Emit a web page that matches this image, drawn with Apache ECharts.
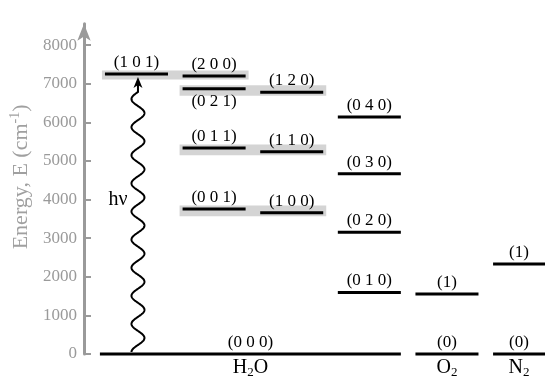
<!DOCTYPE html>
<html>
<head>
<meta charset="utf-8">
<script src="https://cdn.jsdelivr.net/npm/echarts@6/dist/echarts.min.js"></script>
<style>
  html, body { margin: 0; padding: 0; background: #fff; }
  #chart { width: 545px; height: 379px; }
</style>
</head>
<body>
<div id="chart"></div>
<script>
// Vibrational energy levels (cm^-1) of H2O, O2 and N2.
// H2O levels are labelled (v1 v2 v3); columns group levels side by side.
const h2oLabels   = ['(0 0 0)', '(0 1 0)', '(0 2 0)', '(0 3 0)', '(0 4 0)', '(1 0 0)', '(0 0 1)', '(1 1 0)', '(0 1 1)', '(1 2 0)', '(0 2 1)', '(2 0 0)', '(1 0 1)'];
const h2oEnergies = [0, 1595, 3152, 4667, 6134, 3657, 3756, 5235, 5331, 6775, 6871, 7201, 7250];
const h2oColumns  = [0, 3, 3, 3, 3, 2, 1, 2, 1, 2, 1, 1, 0];

const o2Labels   = ['(0)', '(1)'];
const o2Energies = [0, 1556];
const o2Columns  = [4, 4];

const n2Labels   = ['(0)', '(1)'];
const n2Energies = [0, 2330];
const n2Columns  = [5, 5];

const moleculeNames = ['H2O', 'O2', 'N2'];

// Near-degenerate H2O pairs shaded together
const resonancePairs = [
  ['(1 0 1)', '(2 0 0)'],
  ['(0 2 1)', '(1 2 0)'],
  ['(0 1 1)', '(1 1 0)'],
  ['(0 0 1)', '(1 0 0)']
];

// Photon absorbed from the ground state into (1 0 1)
const photonLabel = 'hν';
const photonFrom = '(0 0 0)';
const photonTo = '(1 0 1)';

const yTicks = [0, 1000, 2000, 3000, 4000, 5000, 6000, 7000, 8000];

// ---- build level records -------------------------------------------------
const SERIF = 'Liberation Serif';
const HALF = 0.406;        // half width of a level bar, in column units
const GROUND_EXTRA = 0.065;

const molecules = [
  { name: moleculeNames[0], labels: h2oLabels, energies: h2oEnergies, cols: h2oColumns },
  { name: moleculeNames[1], labels: o2Labels, energies: o2Energies, cols: o2Columns },
  { name: moleculeNames[2], labels: n2Labels, energies: n2Energies, cols: n2Columns }
];

const levels = [];
const moleculeSpans = [];
molecules.forEach(function (m) {
  const firstCol = Math.min.apply(null, m.cols);
  const lastCol = Math.max.apply(null, m.cols);
  moleculeSpans.push({ name: m.name, from: firstCol, to: lastCol });
  m.labels.forEach(function (lab, i) {
    const e = m.energies[i];
    const ground = e === 0;
    const from = ground ? firstCol : m.cols[i];
    const to = ground ? lastCol : m.cols[i];
    // put the label underneath when a level sits just above it in the same column
    const crowded = m.labels.some(function (l2, j) {
      return j !== i && m.cols[j] === m.cols[i] && m.energies[j] > e && m.energies[j] - e < 500;
    });
    levels.push({ mol: m.name, label: lab, energy: e, from: from, to: to, below: crowded && !ground });
  });
});

function findLevel(label) {
  return levels.find(function (l) { return l.mol === moleculeNames[0] && l.label === label; });
}

const bandData = resonancePairs.map(function (pair) {
  const a = findLevel(pair[0]), b = findLevel(pair[1]);
  return [Math.min(a.from, b.from), Math.max(a.to, b.to), Math.min(a.energy, b.energy), Math.max(a.energy, b.energy)];
});

const photonStart = findLevel(photonFrom);
const photonEnd = findLevel(photonTo);

// ---- renderers -----------------------------------------------------------
function renderBand(params, api) {
  const left = api.coord([api.value(0) - HALF, api.value(3)]);
  const right = api.coord([api.value(1) + HALF, api.value(2)]);
  return {
    type: 'rect',
    shape: { x: left[0] - 3, y: left[1] - 3.5, width: right[0] - left[0] + 6, height: right[1] - left[1] + 7 },
    style: { fill: '#d4d4d4' }
  };
}

function renderLevel(params, api) {
  const lv = levels[params.dataIndex];
  const extra = lv.to > lv.from ? GROUND_EXTRA : 0;
  const p1 = api.coord([api.value(0) - HALF - extra, api.value(2)]);
  const p2 = api.coord([api.value(1) + HALF, api.value(2)]);
  const xEnd = Math.min(p2[0], api.getWidth());
  const cx = (p1[0] + xEnd) / 2;
  return {
    type: 'group',
    children: [
      { type: 'line', shape: { x1: p1[0], y1: p1[1], x2: p2[0], y2: p2[1] },
        style: { stroke: '#000', lineWidth: 3 } },
      { type: 'text',
        style: { text: lv.label, x: cx, y: lv.below ? p1[1] + 4 : p1[1] - 3,
                 align: 'center', verticalAlign: lv.below ? 'top' : 'bottom',
                 fill: '#000', fontFamily: SERIF, fontSize: 17 } }
    ]
  };
}

function renderMolecule(params, api) {
  const span = moleculeSpans[params.dataIndex];
  const extra = span.to > span.from ? GROUND_EXTRA : 0;
  const p1 = api.coord([api.value(0) - HALF - extra, 0]);
  const p2 = api.coord([api.value(1) + HALF, 0]);
  const xEnd = Math.min(p2[0], api.getWidth());
  const m = span.name.match(/^([A-Z][a-z]?)(\d*)(.*)$/);
  const text = '{a|' + m[1] + '}' + (m[2] ? '{s|' + m[2] + '}' : '') + (m[3] ? '{a|' + m[3] + '}' : '');
  return {
    type: 'text',
    style: {
      text: text, x: (p1[0] + xEnd) / 2, y: p1[1] + 3, align: 'center', verticalAlign: 'top',
      rich: {
        a: { fontFamily: SERIF, fontSize: 20, fill: '#000', lineHeight: 22 },
        s: { fontFamily: SERIF, fontSize: 13, fill: '#000', lineHeight: 11, verticalAlign: 'bottom' }
      }
    }
  };
}

function renderPhoton(params, api) {
  const base = api.coord([api.value(0), api.value(1)]);
  const tip = api.coord([api.value(0), api.value(2)]);
  const x0 = base[0] + 1.5;
  const yStart = base[1] - 2;
  const yTip = tip[1] + 3;
  const headLen = 11;
  const waveTop = yTip + 15;
  const cycles = 9.25, amp = 6.5, n = 600;
  const pts = [];
  for (let i = 0; i <= n; i++) {
    const t = i / n;
    pts.push([x0 - amp * Math.cos(2 * Math.PI * cycles * t), yStart - (yStart - waveTop) * t]);
  }
  pts.push([x0, yTip + headLen - 3]);
  const labelY = api.coord([0, api.value(2) * 0.55])[1];
  return {
    type: 'group',
    children: [
      { type: 'polyline', shape: { points: pts }, style: { stroke: '#000', lineWidth: 2, fill: null } },
      { type: 'polygon',
        shape: { points: [[x0, yTip], [x0 - 4.5, yTip + headLen], [x0, yTip + headLen - 3], [x0 + 4.5, yTip + headLen]] },
        style: { fill: '#000' } },
      { type: 'text',
        style: { text: photonLabel, x: x0 - amp - 4, y: labelY, align: 'right', verticalAlign: 'middle',
                 fill: '#000', fontFamily: SERIF, fontSize: 20 } }
    ]
  };
}

// ---- chart ---------------------------------------------------------------
const X_MIN = -0.676, X_MAX = 5.263;
const Y_MAX = 8550;

const chart = echarts.init(document.getElementById('chart'), null, { renderer: 'canvas' });
chart.setOption({
  animation: false,
  backgroundColor: '#fff',
  grid: { left: 84, right: 0, top: 23.8, bottom: 25 },
  xAxis: { type: 'value', min: X_MIN, max: X_MAX, show: false },
  yAxis: {
    type: 'value', min: 0, max: Y_MAX, interval: 1000,
    name: '{a|Energy, E (cm}{b|-1}{a|)}',
    nameLocation: 'middle', nameGap: 46,
    nameTextStyle: {
      padding: [0, 0, 0, 24],
      rich: {
        a: { fontFamily: SERIF, fontSize: 22, color: '#a0a0a0', lineHeight: 26 },
        b: { fontFamily: SERIF, fontSize: 14, color: '#a0a0a0', lineHeight: 13, verticalAlign: 'top' }
      }
    },
    splitLine: { show: false },
    axisLine: { show: true, onZero: false, symbol: ['none', 'arrow'], symbolSize: [10, 17],
                lineStyle: { color: '#9a9a9a', width: 3 } },
    axisTick: { show: true, inside: true, length: 7, customValues: yTicks,
                lineStyle: { color: '#9a9a9a', width: 2 } },
    axisLabel: { customValues: yTicks, color: '#9a9a9a', fontFamily: SERIF, fontSize: 17, margin: 7,
                 formatter: function (v) { return String(v); } }
  },
  series: [
    { type: 'custom', name: 'bands', renderItem: renderBand, data: bandData, z: 1, silent: true },
    { type: 'custom', name: 'levels', renderItem: renderLevel,
      data: levels.map(function (l) { return [l.from, l.to, l.energy]; }), z: 2, silent: true },
    { type: 'custom', name: 'photon', renderItem: renderPhoton,
      data: [[photonStart.from, photonStart.energy, photonEnd.energy]], z: 3, silent: true },
    { type: 'custom', name: 'molecules', renderItem: renderMolecule, clip: false,
      data: moleculeSpans.map(function (s) { return [s.from, s.to]; }), z: 2, silent: true }
  ]
});
</script>
</body>
</html>
